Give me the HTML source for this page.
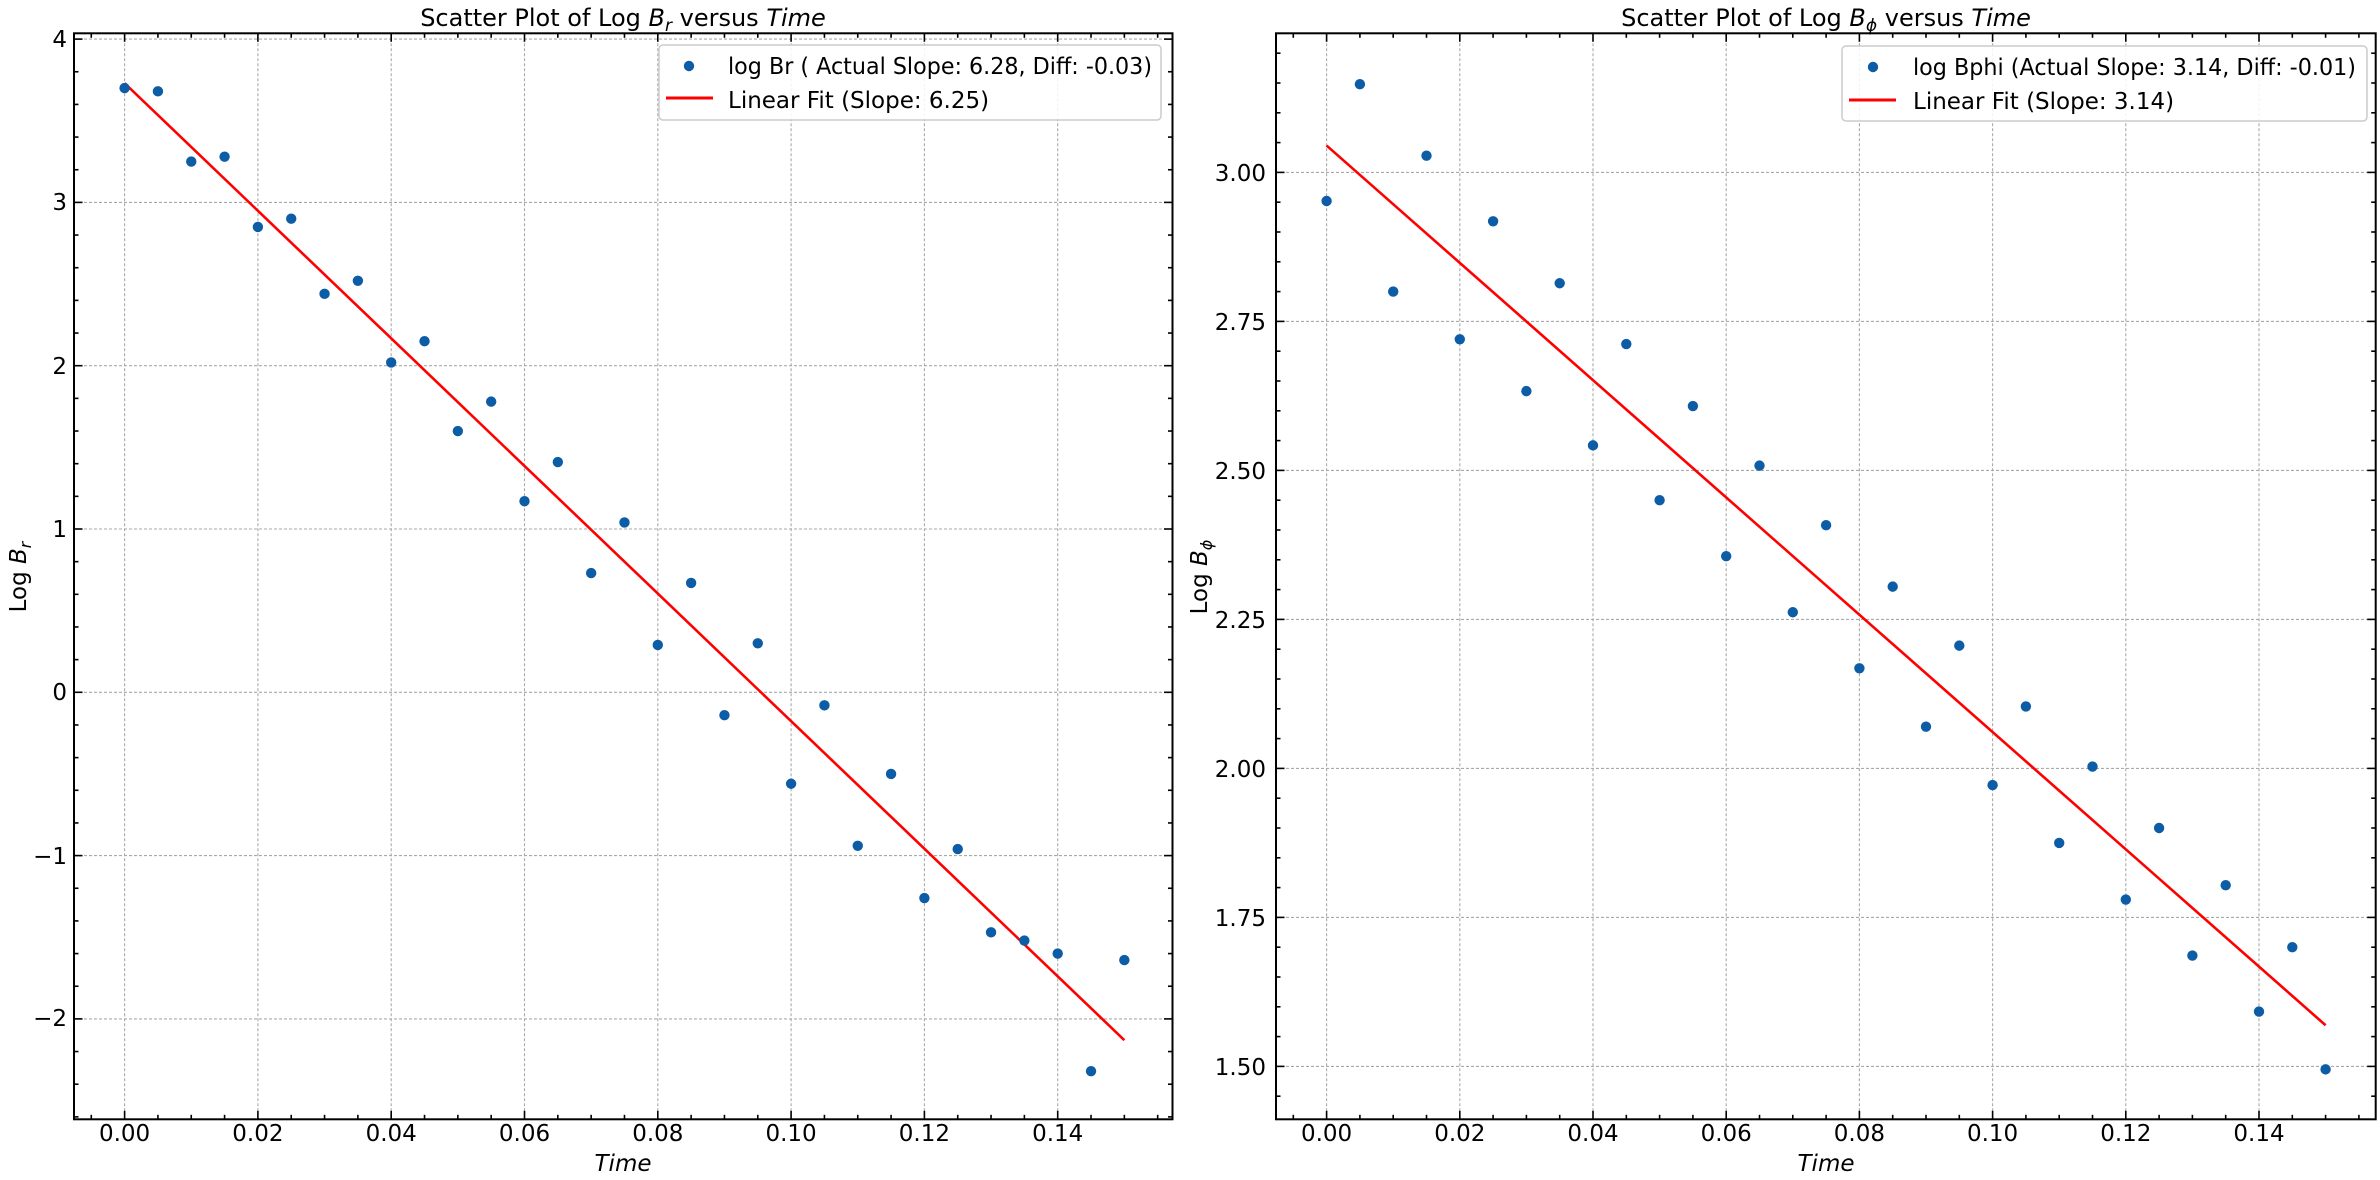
<!DOCTYPE html>
<html><head><meta charset="utf-8"><style>
html,body{margin:0;padding:0;background:#fff;}
svg{display:block;}
text{font-family:"DejaVu Sans","Liberation Sans",sans-serif;fill:#000;}
</style></head><body>
<svg id="s" width="2380" height="1180" viewBox="0 0 2380 1180" xmlns="http://www.w3.org/2000/svg">
<rect width="2380" height="1180" fill="#fff"/>
<g id="g"></g>
<text x="623" y="26" font-size="24" text-anchor="middle">Scatter Plot of Log <tspan font-style="italic">B</tspan><tspan font-style="italic" font-size="17" dy="5">r</tspan><tspan dy="-5"> versus </tspan><tspan font-style="italic">Time</tspan></text>
<text x="623" y="1171" font-size="23" text-anchor="middle" font-style="italic">Time</text>
<text transform="translate(26,577) rotate(-90)" font-size="23" text-anchor="middle">Log <tspan font-style="italic">B</tspan><tspan font-style="italic" font-size="16" dy="5">r</tspan></text>
<g font-size="23" text-anchor="middle">
<text x="124.6" y="1141">0.00</text><text x="257.9" y="1141">0.02</text><text x="391.2" y="1141">0.04</text><text x="524.5" y="1141">0.06</text><text x="657.8" y="1141">0.08</text><text x="791.1" y="1141">0.10</text><text x="924.4" y="1141">0.12</text><text x="1057.7" y="1141">0.14</text>
</g>
<g font-size="23" text-anchor="end">
<text x="67" y="47">4</text><text x="67" y="210">3</text><text x="67" y="374">2</text><text x="67" y="537">1</text><text x="67" y="700">0</text><text x="67" y="864">−1</text><text x="67" y="1026">−2</text>
</g>
<text x="1826" y="26" font-size="24" text-anchor="middle">Scatter Plot of Log <tspan font-style="italic">B</tspan><tspan font-style="italic" font-size="17" dy="5">ϕ</tspan><tspan dy="-5"> versus </tspan><tspan font-style="italic">Time</tspan></text>
<text x="1826" y="1171" font-size="23" text-anchor="middle" font-style="italic">Time</text>
<text transform="translate(1207,577) rotate(-90)" font-size="23" text-anchor="middle">Log <tspan font-style="italic">B</tspan><tspan font-style="italic" font-size="16" dy="5">ϕ</tspan></text>
<g font-size="23" text-anchor="middle">
<text x="1326.6" y="1141">0.00</text><text x="1459.8" y="1141">0.02</text><text x="1593" y="1141">0.04</text><text x="1726.2" y="1141">0.06</text><text x="1859.4" y="1141">0.08</text><text x="1992.6" y="1141">0.10</text><text x="2125.8" y="1141">0.12</text><text x="2259" y="1141">0.14</text>
</g>
<g font-size="23" text-anchor="end">
<text x="1266" y="181">3.00</text><text x="1266" y="330">2.75</text><text x="1266" y="479">2.50</text><text x="1266" y="628">2.25</text><text x="1266" y="777">2.00</text><text x="1266" y="926">1.75</text><text x="1266" y="1075">1.50</text>
</g>
<rect x="659" y="45" width="502" height="75" rx="4" fill="#fff" fill-opacity="0.85" stroke="#ccc" stroke-width="1.5"/>
<circle cx="689" cy="66" r="5.2" fill="#0C5DA5"/>
<line x1="666" y1="98" x2="713" y2="98" stroke="#f00" stroke-width="3"/>
<text x="728" y="74" font-size="23" textLength="424" lengthAdjust="spacingAndGlyphs">log Br ( Actual Slope: 6.28, Diff: -0.03)</text>
<text x="728" y="108" font-size="23">Linear Fit (Slope: 6.25)</text>
<rect x="1842" y="46" width="525" height="75" rx="4" fill="#fff" fill-opacity="0.85" stroke="#ccc" stroke-width="1.5"/>
<circle cx="1873" cy="67" r="5.2" fill="#0C5DA5"/>
<line x1="1849" y1="100" x2="1896" y2="100" stroke="#f00" stroke-width="3"/>
<text x="1913" y="75" font-size="23" textLength="443" lengthAdjust="spacingAndGlyphs">log Bphi (Actual Slope: 3.14, Diff: -0.01)</text>
<text x="1913" y="109" font-size="23">Linear Fit (Slope: 3.14)</text>
</svg>
<script>
(function(){
var NS="http://www.w3.org/2000/svg",g=document.getElementById('g');
function el(t,a){var e=document.createElementNS(NS,t);for(var k in a)e.setAttribute(k,a[k]);g.appendChild(e);return e;}
function panel(P){
 var X=function(v){return P.x0+v*P.px;},Y=function(v){return P.y0-(v-P.v0)*P.py;};
 for(var i=0;i<=7;i++){var x=X(i*0.02);el('line',{x1:x,y1:P.T,x2:x,y2:P.B,stroke:'#aaa','stroke-width':1.1,'stroke-dasharray':'3,2'});}
 P.ymaj.forEach(function(v){var y=Y(v);el('line',{x1:P.L,y1:y,x2:P.R,y2:y,stroke:'#aaa','stroke-width':1.1,'stroke-dasharray':'3,2'});});
 el('line',{x1:X(0),y1:Y(P.f0),x2:X(0.15),y2:Y(P.f1),stroke:'#f00','stroke-width':2.6});
 P.d.forEach(function(v,i){el('circle',{cx:X(i*0.005),cy:Y(v),r:5.2,fill:'#0C5DA5'});});
 var t;
 for(t=-0.005;t<=0.156;t+=0.005){var x=X(t);if(x<P.L||x>P.R)continue;var maj=Math.abs(Math.round(t/0.02)*0.02-t)<1e-6;var len=maj?8.5:4.5;
  el('line',{x1:x,y1:P.B,x2:x,y2:P.B-len,stroke:'#000','stroke-width':1.6});el('line',{x1:x,y1:P.T,x2:x,y2:P.T+len,stroke:'#000','stroke-width':1.6});}
 for(t=P.ymin;t<=P.ymax+1e-9;t+=P.ymn){var y=Y(t);if(y<P.T||y>P.B)continue;var maj=Math.abs(Math.round(t/P.ymj)*P.ymj-t)<1e-6;var len=maj?8.5:4.5;
  el('line',{x1:P.L,y1:y,x2:P.L+len,y2:y,stroke:'#000','stroke-width':1.6});el('line',{x1:P.R,y1:y,x2:P.R-len,y2:y,stroke:'#000','stroke-width':1.6});}
 el('rect',{x:P.L,y:P.T,width:P.R-P.L,height:P.B-P.T,fill:'none',stroke:'#000','stroke-width':2});
}
panel({L:74,R:1172.5,T:33.3,B:1119.3,x0:124.6,px:6665,y0:692.3,v0:0,py:163.3,
 ymaj:[4,3,2,1,0,-1,-2],ymin:-2.6,ymax:4.0,ymn:0.2,ymj:1,f0:3.73,f1:-2.13,
 d:[3.70,3.68,3.25,3.28,2.85,2.90,2.44,2.52,2.02,2.15,1.60,1.78,1.17,1.41,0.73,1.04,0.29,0.67,-0.14,0.30,-0.56,-0.08,-0.94,-0.50,-1.26,-0.96,-1.47,-1.52,-1.60,-2.32,-1.64]});
panel({L:1276,R:2375.7,T:33.3,B:1119.3,x0:1326.6,px:6660,y0:1066.4,v0:1.5,py:596,
 ymaj:[3.0,2.75,2.5,2.25,2.0,1.75,1.5],ymin:1.45,ymax:3.2,ymn:0.05,ymj:0.25,f0:3.045,f1:1.569,
 d:[2.952,3.148,2.80,3.028,2.72,2.918,2.633,2.814,2.542,2.712,2.45,2.608,2.356,2.508,2.262,2.408,2.168,2.305,2.07,2.206,1.972,2.104,1.875,2.003,1.78,1.90,1.686,1.804,1.592,1.70,1.495]});
var s=document.getElementById('s');s.insertBefore(g,s.children[1]);
})();
</script>
</body></html>
